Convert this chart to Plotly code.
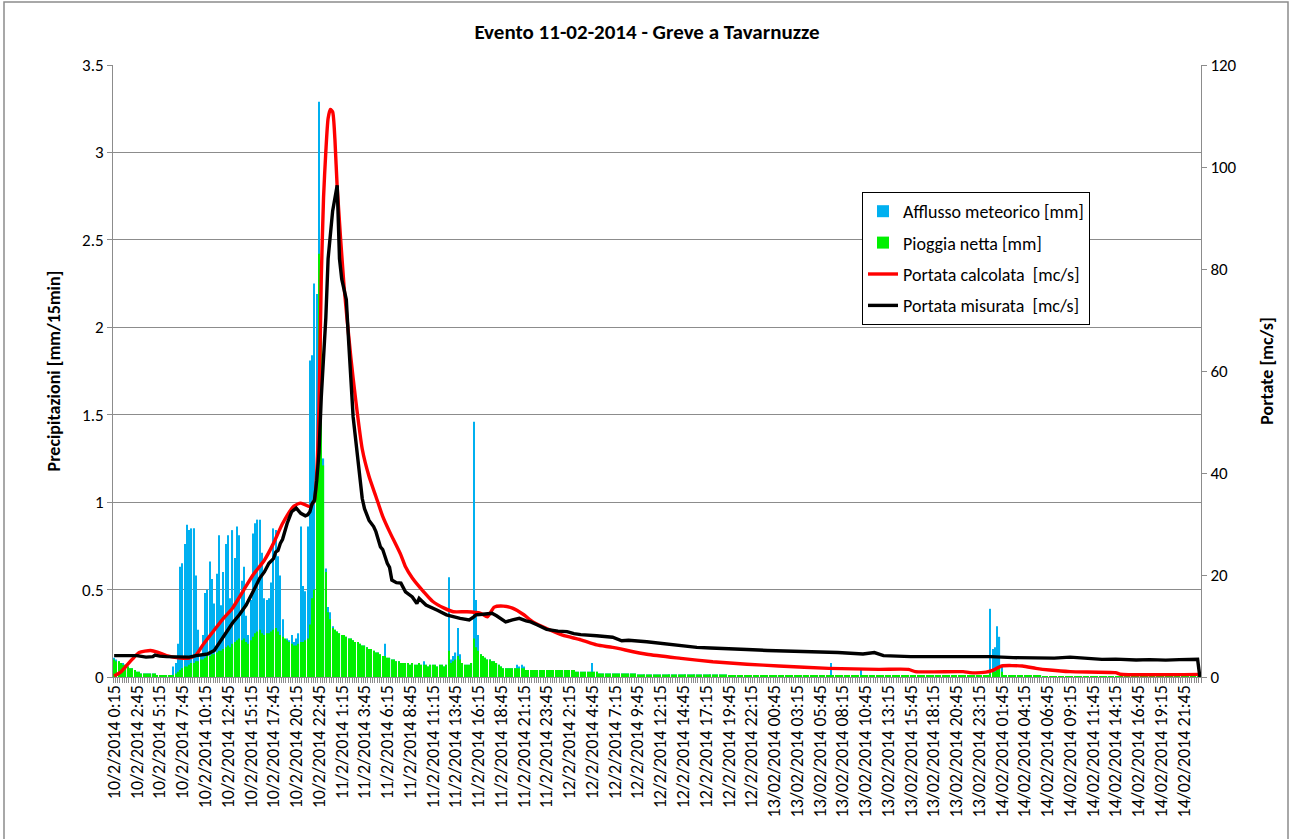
import plotly.graph_objects as go

# ---------------- data ----------------
x_labels = [
    "10/2/2014 0:15", "10/2/2014 2:45", "10/2/2014 5:15", "10/2/2014 7:45", "10/2/2014 10:15",
    "10/2/2014 12:45", "10/2/2014 15:15", "10/2/2014 17:45", "10/2/2014 20:15", "10/2/2014 22:45",
    "11/2/2014 1:15", "11/2/2014 3:45", "11/2/2014 6:15", "11/2/2014 8:45", "11/2/2014 11:15",
    "11/2/2014 13:45", "11/2/2014 16:15", "11/2/2014 18:45", "11/2/2014 21:15", "11/2/2014 23:45",
    "12/2/2014 2:15", "12/2/2014 4:45", "12/2/2014 7:15", "12/2/2014 9:45", "12/2/2014 12:15",
    "12/2/2014 14:45", "12/2/2014 17:15", "12/2/2014 19:45", "12/2/2014 22:15",
    "13/02/2014 00:45", "13/02/2014 03:15", "13/02/2014 05:45", "13/02/2014 08:15", "13/02/2014 10:45",
    "13/02/2014 13:15", "13/02/2014 15:45", "13/02/2014 18:15", "13/02/2014 20:45", "13/02/2014 23:15",
    "14/02/2014 01:45", "14/02/2014 04:15", "14/02/2014 06:45", "14/02/2014 09:15", "14/02/2014 11:45",
    "14/02/2014 14:15", "14/02/2014 16:45", "14/02/2014 19:15", "14/02/2014 21:45",
]
label_step = 10  # one label every 10 intervals of 15 min

# Afflusso meteorico [mm] per 15-min step (478 steps)
afflusso = [
    0.11, 0.10, 0.09, 0.08, 0.08, 0.07, 0.06, 0.05, 0.05, 0.04,
    0.03, 0.03, 0.02, 0.02, 0.02, 0.02, 0.02, 0.02, 0.02, 0.01,
    0.01, 0.01, 0.01, 0.01, 0.01, 0.01, 0.06, 0.08, 0.19, 0.63,
    0.65, 0.76, 0.87, 0.84, 0.85, 0.85, 0.58, 0.27, 0.13, 0.24,
    0.48, 0.50, 0.66, 0.56, 0.42, 0.59, 0.81, 0.41, 0.60, 0.76,
    0.81, 0.45, 0.84, 0.68, 0.86, 0.81, 0.55, 0.63, 0.35, 0.24,
    0.44, 0.82, 0.88, 0.90, 0.90, 0.71, 0.45, 0.44, 0.45, 0.54,
    0.85, 0.84, 0.69, 0.58, 0.33, 0.17, 0.22, 0.21, 0.24, 0.20,
    0.22, 0.25, 0.86, 0.52, 0.49, 0.86, 1.81, 1.84, 2.25, 2.19,
    3.29, 2.35, 1.25, 0.62, 0.40, 0.37, 0.29, 0.27, 0.26, 0.25,
    0.24, 0.24, 0.23, 0.22, 0.22, 0.21, 0.20, 0.20, 0.19, 0.18,
    0.18, 0.17, 0.16, 0.16, 0.15, 0.14, 0.14, 0.13, 0.12, 0.19,
    0.11, 0.11, 0.10, 0.10, 0.09, 0.09, 0.08, 0.08, 0.08, 0.08,
    0.07, 0.08, 0.07, 0.07, 0.08, 0.07, 0.09, 0.07, 0.06, 0.07,
    0.07, 0.07, 0.06, 0.07, 0.07, 0.06, 0.07, 0.57, 0.10, 0.12,
    0.14, 0.28, 0.13, 0.08, 0.07, 0.07, 0.07, 0.08, 1.46, 0.44,
    0.24, 0.13, 0.12, 0.11, 0.10, 0.10, 0.09, 0.09, 0.08, 0.07,
    0.06, 0.05, 0.05, 0.05, 0.05, 0.05, 0.05, 0.07, 0.06, 0.07,
    0.06, 0.04, 0.04, 0.04, 0.04, 0.04, 0.04, 0.04, 0.04, 0.04,
    0.04, 0.04, 0.04, 0.04, 0.04, 0.04, 0.04, 0.04, 0.04, 0.04,
    0.04, 0.04, 0.04, 0.03, 0.03, 0.03, 0.03, 0.03, 0.03, 0.03,
    0.08, 0.03, 0.03, 0.02, 0.02, 0.02, 0.02, 0.02, 0.02, 0.02,
    0.02, 0.02, 0.02, 0.02, 0.02, 0.02, 0.02, 0.02, 0.02, 0.02,
    0.015, 0.015, 0.015, 0.015, 0.015, 0.015, 0.015, 0.015, 0.015, 0.015,
    0.015, 0.015, 0.015, 0.015, 0.015, 0.015, 0.015, 0.015, 0.015, 0.015,
    0.015, 0.015, 0.015, 0.015, 0.015, 0.015, 0.015, 0.015, 0.015, 0.015,
    0.015, 0.015, 0.015, 0.015, 0.015, 0.015, 0.015, 0.015, 0.015, 0.015,
    0.01, 0.01, 0.01, 0.01, 0.01, 0.01, 0.01, 0.01, 0.01, 0.01,
    0.01, 0.01, 0.01, 0.01, 0.01, 0.01, 0.01, 0.01, 0.01, 0.01,
    0.01, 0.01, 0.01, 0.01, 0.01, 0.01, 0.01, 0.01, 0.01, 0.01,
    0.01, 0.01, 0.01, 0.01, 0.01, 0.01, 0.01, 0.01, 0.01, 0.01,
    0.01, 0.01, 0.01, 0.01, 0.01, 0.08, 0.01, 0.01, 0.01, 0.01,
    0.01, 0.01, 0.01, 0.01, 0.01, 0.01, 0.01, 0.01, 0.04, 0.01,
    0.01, 0.01, 0.01, 0.01, 0.01, 0.01, 0.01, 0.01, 0.01, 0.01,
    0.01, 0.01, 0.01, 0.01, 0.01, 0.01, 0.01, 0.01, 0.01, 0.01,
    0.01, 0.01, 0.01, 0.01, 0.01, 0.01, 0.01, 0.01, 0.01, 0.01,
    0.01, 0.01, 0.01, 0.01, 0.01, 0.01, 0.01, 0.01, 0.01, 0.01,
    0.01, 0.01, 0.01, 0.01, 0.01, 0.01, 0.01, 0.01, 0.01, 0.01,
    0.01, 0.01, 0.01, 0.01, 0.01, 0.39, 0.16, 0.17, 0.29, 0.23,
    0.07, 0.01, 0.01, 0.01, 0.01, 0.01, 0.01, 0.01, 0.01, 0.01,
    0.01, 0.01, 0.01, 0.01, 0.01, 0.01, 0.01, 0.01, 0.005, 0.005,
    0.005, 0.005, 0.005, 0.005, 0.005, 0.005, 0.005, 0.005, 0.005, 0.005,
    0.005, 0.005, 0.005, 0.005, 0.005, 0.005, 0.005, 0.005, 0.005, 0.005,
    0.005, 0.005, 0.005, 0.005, 0.005, 0.005, 0.005, 0.005, 0.005, 0.005,
    0.005, 0.005, 0.005, 0.005, 0.005, 0.005, 0.005, 0.005, 0.005, 0.005,
    0.005, 0.005, 0.005, 0.005, 0.005, 0.005, 0.005, 0.005, 0.005, 0.005,
    0.005, 0.005, 0.005, 0.005, 0.005, 0.005, 0.005, 0.005, 0.005, 0.005,
    0.005, 0.005, 0.005, 0.005, 0.005, 0.005, 0.005, 0.005,
]

# Pioggia netta [mm] per 15-min step (478 steps)
pioggia_netta = [
    0.10, 0.09, 0.09, 0.08, 0.07, 0.07, 0.06, 0.05, 0.05, 0.04,
    0.03, 0.03, 0.02, 0.02, 0.02, 0.02, 0.02, 0.02, 0.02, 0.01,
    0.01, 0.01, 0.01, 0.01, 0.01, 0.01, 0.01, 0.02, 0.03, 0.04,
    0.05, 0.06, 0.06, 0.07, 0.08, 0.08, 0.09, 0.09, 0.10, 0.10,
    0.11, 0.12, 0.12, 0.13, 0.13, 0.14, 0.15, 0.15, 0.16, 0.17,
    0.18, 0.17, 0.19, 0.20, 0.21, 0.22, 0.21, 0.22, 0.20, 0.19,
    0.21, 0.23, 0.25, 0.26, 0.27, 0.25, 0.24, 0.25, 0.25, 0.26,
    0.27, 0.28, 0.26, 0.24, 0.23, 0.22, 0.21, 0.20, 0.19, 0.18,
    0.18, 0.19, 0.20, 0.20, 0.21, 0.22, 0.30, 0.45, 0.50, 1.22,
    2.42, 2.30, 1.21, 0.60, 0.37, 0.33, 0.28, 0.27, 0.26, 0.25,
    0.24, 0.24, 0.23, 0.22, 0.22, 0.21, 0.20, 0.20, 0.19, 0.18,
    0.18, 0.17, 0.16, 0.16, 0.15, 0.14, 0.14, 0.13, 0.12, 0.12,
    0.11, 0.11, 0.10, 0.10, 0.09, 0.09, 0.08, 0.08, 0.08, 0.08,
    0.07, 0.08, 0.07, 0.07, 0.08, 0.07, 0.07, 0.07, 0.06, 0.07,
    0.07, 0.07, 0.06, 0.07, 0.07, 0.06, 0.07, 0.15, 0.08, 0.09,
    0.10, 0.12, 0.10, 0.08, 0.07, 0.07, 0.07, 0.08, 0.22, 0.17,
    0.15, 0.13, 0.12, 0.11, 0.10, 0.10, 0.09, 0.09, 0.08, 0.07,
    0.06, 0.05, 0.05, 0.05, 0.05, 0.05, 0.05, 0.05, 0.05, 0.05,
    0.05, 0.04, 0.04, 0.04, 0.04, 0.04, 0.04, 0.04, 0.04, 0.04,
    0.04, 0.04, 0.04, 0.04, 0.04, 0.04, 0.04, 0.04, 0.04, 0.04,
    0.04, 0.04, 0.04, 0.03, 0.03, 0.03, 0.03, 0.03, 0.03, 0.03,
    0.03, 0.03, 0.03, 0.02, 0.02, 0.02, 0.02, 0.02, 0.02, 0.02,
    0.02, 0.02, 0.02, 0.02, 0.02, 0.02, 0.02, 0.02, 0.02, 0.02,
    0.015, 0.015, 0.015, 0.015, 0.015, 0.015, 0.015, 0.015, 0.015, 0.015,
    0.015, 0.015, 0.015, 0.015, 0.015, 0.015, 0.015, 0.015, 0.015, 0.015,
    0.015, 0.015, 0.015, 0.015, 0.015, 0.015, 0.015, 0.015, 0.015, 0.015,
    0.015, 0.015, 0.015, 0.015, 0.015, 0.015, 0.015, 0.015, 0.015, 0.015,
    0.01, 0.01, 0.01, 0.01, 0.01, 0.01, 0.01, 0.01, 0.01, 0.01,
    0.01, 0.01, 0.01, 0.01, 0.01, 0.01, 0.01, 0.01, 0.01, 0.01,
    0.01, 0.01, 0.01, 0.01, 0.01, 0.01, 0.01, 0.01, 0.01, 0.01,
    0.01, 0.01, 0.01, 0.01, 0.01, 0.01, 0.01, 0.01, 0.01, 0.01,
    0.01, 0.01, 0.01, 0.01, 0.01, 0.01, 0.01, 0.01, 0.01, 0.01,
    0.01, 0.01, 0.01, 0.01, 0.01, 0.01, 0.01, 0.01, 0.01, 0.01,
    0.01, 0.01, 0.01, 0.01, 0.01, 0.01, 0.01, 0.01, 0.01, 0.01,
    0.01, 0.01, 0.01, 0.01, 0.01, 0.01, 0.01, 0.01, 0.01, 0.01,
    0.01, 0.01, 0.01, 0.01, 0.01, 0.01, 0.01, 0.01, 0.01, 0.01,
    0.01, 0.01, 0.01, 0.01, 0.01, 0.01, 0.01, 0.01, 0.01, 0.01,
    0.01, 0.01, 0.01, 0.01, 0.01, 0.01, 0.01, 0.01, 0.01, 0.01,
    0.01, 0.01, 0.01, 0.01, 0.01, 0.02, 0.03, 0.03, 0.04, 0.05,
    0.03, 0.01, 0.01, 0.01, 0.01, 0.01, 0.01, 0.01, 0.01, 0.01,
    0.01, 0.01, 0.01, 0.01, 0.01, 0.01, 0.01, 0.01, 0.005, 0.005,
    0.005, 0.005, 0.005, 0.005, 0.005, 0.005, 0.005, 0.005, 0.005, 0.005,
    0.005, 0.005, 0.005, 0.005, 0.005, 0.005, 0.005, 0.005, 0.005, 0.005,
    0.005, 0.005, 0.005, 0.005, 0.005, 0.005, 0.005, 0.005, 0.005, 0.005,
    0.005, 0.005, 0.005, 0.005, 0.005, 0.005, 0.005, 0.005, 0.005, 0.005,
    0.005, 0.005, 0.005, 0.005, 0.005, 0.005, 0.005, 0.005, 0.005, 0.005,
    0.005, 0.005, 0.005, 0.005, 0.005, 0.005, 0.005, 0.005, 0.005, 0.005,
    0.005, 0.005, 0.005, 0.005, 0.005, 0.005, 0.005, 0.005,
]

# Portata calcolata [mc/s] read at selected 15-min steps
calc_step = [0, 3, 5, 8, 11, 16, 19, 23, 29, 33, 36, 39, 44, 48, 52, 57, 61, 66, 70, 74,
             79, 82, 86, 88, 89, 90, 91, 92, 93, 94, 95, 96, 97, 98, 101, 104, 106, 109, 112, 115,
             118, 121, 126, 128, 131, 136, 140, 145, 149, 155, 161, 164, 167, 171, 175, 180, 184, 190, 197, 205,
             212, 219, 234, 249, 263, 278, 292, 314, 336, 349, 352, 373, 376, 383, 386, 390, 399, 405, 411, 420,
             440, 442, 477]
calc_q = [0.2, 1.0, 2.0, 3.5, 4.8, 5.2, 4.9, 4.2, 3.7, 3.7, 4.3, 6.3, 9.2, 11.5, 13.5, 17.1, 20.0, 22.9, 26.2, 30.1,
          33.5, 34.1, 33.4, 34.7, 40.0, 53.0, 78.0, 94.0, 103.0, 109.5, 111.3, 110.8, 105.4, 96.0, 76.6, 62.6, 54.8, 44.7, 39.3, 35.4,
          31.5, 28.5, 23.9, 21.6, 19.4, 16.7, 14.8, 13.5, 12.8, 12.8, 12.5, 11.8, 13.7, 13.9, 13.5, 12.2, 10.8, 9.5, 8.2, 7.3,
          6.3, 5.8, 4.45, 3.66, 3.0, 2.5, 2.16, 1.7, 1.5, 1.5, 1.05, 1.05, 0.85, 0.95, 1.3, 2.16, 2.16, 1.7, 1.37, 1.05,
          0.85, 0.55, 0.52]

# Portata misurata [mc/s] read at selected 15-min steps
mis_step = [0, 5, 10, 14, 17, 18, 20, 23, 29, 33, 36, 38, 41, 44, 47, 49, 52, 55, 58, 61,
            64, 66, 68, 70, 71, 72, 73, 74, 76, 78, 80, 82, 84, 85, 86, 87, 88, 89, 90, 91,
            93, 94, 96, 98, 99, 100, 101, 102, 103, 104, 105, 106, 107, 108, 109, 110, 112, 114, 115, 117,
            118, 120, 121, 122, 124, 126, 128, 131, 133, 134, 135, 137, 142, 146, 152, 156, 158, 159, 162, 166,
            168, 171, 172, 175, 178, 181, 183, 186, 190, 195, 199, 202, 205, 212, 219, 223, 226, 234, 238, 243,
            247, 256, 262, 271, 278, 287, 296, 307, 318, 329, 334, 338, 350, 361, 373, 385, 395, 405, 413, 420,
            427, 434, 440, 449, 455, 462, 468, 476, 477]
mis_q = [4.2, 4.2, 4.2, 3.9, 4.0, 4.3, 4.1, 4.0, 3.9, 3.9, 4.2, 4.3, 4.5, 5.2, 7.2, 8.8, 10.6, 12.2, 14.1, 16.7,
         19.4, 20.6, 22.3, 23.2, 24.5, 24.8, 26.2, 27.0, 30.1, 32.4, 33.1, 32.1, 31.6, 31.8, 32.4, 34.0, 34.6, 38.5, 44.0, 54.8,
         70.4, 82.0, 91.4, 96.4, 82.0, 78.0, 76.0, 74.0, 66.0, 57.0, 51.0, 47.0, 43.0, 40.0, 35.0, 33.0, 30.7, 29.5, 28.5, 25.5,
         25.0, 22.3, 21.5, 19.0, 18.5, 18.4, 16.7, 15.7, 14.4, 15.4, 15.0, 14.1, 13.1, 12.2, 11.5, 11.2, 11.8, 12.2, 12.3, 12.5,
         12.0, 11.0, 10.8, 11.2, 11.5, 11.0, 10.8, 10.2, 9.35, 9.0, 8.9, 8.5, 8.3, 8.1, 7.8, 7.1, 7.2, 6.9, 6.7, 6.6,
         6.4, 5.8, 5.7, 5.6, 5.4, 5.2, 5.1, 4.9, 4.8, 4.5, 4.8, 4.2, 4.0, 4.0, 4.0, 4.0, 3.8, 3.66, 3.7, 3.9,
         3.6, 3.46, 3.5, 3.33, 3.4, 3.3, 3.4, 3.46, 0.0]

assert len(afflusso) == len(pioggia_netta)

n_steps = len(afflusso)
steps = list(range(n_steps))

FONT = "Carlito, Calibri, Lato, sans-serif"
GRID = "#8c8c8c"
FS = 18

fig = go.Figure()
fig.add_trace(go.Bar(x=steps, y=afflusso, name="Afflusso meteorico [mm]",
                     marker=dict(color="#00B0F0", line=dict(width=0)), width=0.5,
                     legendgroup="a", yaxis="y"))
fig.add_trace(go.Bar(x=steps, y=pioggia_netta, name="Pioggia netta [mm]",
                     marker=dict(color="#00F000", line=dict(width=0)), width=0.5,
                     legendgroup="b", yaxis="y"))
fig.add_trace(go.Scatter(x=calc_step, y=calc_q, name="Portata calcolata  [mc/s]", mode="lines",
                         line=dict(color="#FF0000", width=3.4, shape="spline", smoothing=0.6),
                         legendgroup="c", yaxis="y2"))
fig.add_trace(go.Scatter(x=mis_step, y=mis_q, name="Portata misurata  [mc/s]", mode="lines",
                         line=dict(color="#000000", width=3.4),
                         legendgroup="d", yaxis="y2"))

# plot-area geometry in pixels
W, H = 1297, 839
L, R, T, B = 113, 1201, 65, 677
pw, ph = R - L, B - T

fig.update_layout(
    width=W, height=H,
    margin=dict(l=L, r=W - R, t=T, b=H - B, autoexpand=False),
    paper_bgcolor="white", plot_bgcolor="white",
    font=dict(family=FONT, size=FS, color="black"),
    barmode="overlay",
    title=dict(text="<b>Evento 11-02-2014 - Greve a Tavarnuzze</b>",
               x=647 / W, xref="container", xanchor="center",
               y=1 - 32 / H, yref="container", yanchor="middle",
               font=dict(family=FONT, size=21, color="black")),
    xaxis=dict(range=[-0.5, n_steps - 0.5], tickmode="array",
               tickvals=[i * label_step for i in range(len(x_labels))], ticktext=x_labels,
               tickangle=-90, ticks="", showgrid=False, zeroline=False,
               showline=True, linecolor=GRID, linewidth=1,
               tickfont=dict(family=FONT, size=FS),
               minor=dict(tickmode="linear", tick0=-0.5, dtick=1, ticks="outside",
                          ticklen=5, tickcolor=GRID, tickwidth=1, showgrid=False)),
    yaxis=dict(range=[0, 3.5], dtick=0.5, tick0=0, showgrid=True, gridcolor=GRID, gridwidth=1,
               zeroline=False, showline=True, linecolor=GRID, linewidth=1,
               ticks="outside", ticklen=5, tickcolor=GRID, tickfont=dict(size=17),
               title=dict(text="<b>Precipitazioni [mm/15min]</b>", standoff=16,
                          font=dict(family=FONT, size=FS))),
    yaxis2=dict(range=[0, 120], dtick=20, tick0=0, overlaying="y", side="right",
                showgrid=False, zeroline=False, showline=True, linecolor=GRID, linewidth=1,
                ticks="outside", ticklen=5, tickcolor=GRID, tickfont=dict(size=17),
                title=dict(text="<b>Portate [mc/s]</b>", standoff=24,
                           font=dict(family=FONT, size=FS))),
    legend=dict(x=(862 - L) / pw, y=(B - 192) / ph, xanchor="left", yanchor="top",
                bgcolor="white", bordercolor="black", borderwidth=1,
                font=dict(family=FONT, size=FS), tracegroupgap=5, traceorder="grouped"),
    showlegend=True,
    shapes=[dict(type="rect", xref="paper", yref="paper",
                 x0=(4 - L) / pw, x1=(1288 - L) / pw,
                 y0=(B - 860) / ph, y1=(B - 2) / ph,
                 line=dict(color="#8c8c8c", width=1.5), fillcolor="rgba(0,0,0,0)", layer="below")],
)

fig.write_html("out.html", config={"displayModeBar": False},
               post_script="document.body.style.margin='0px';document.body.style.overflow='hidden';")
